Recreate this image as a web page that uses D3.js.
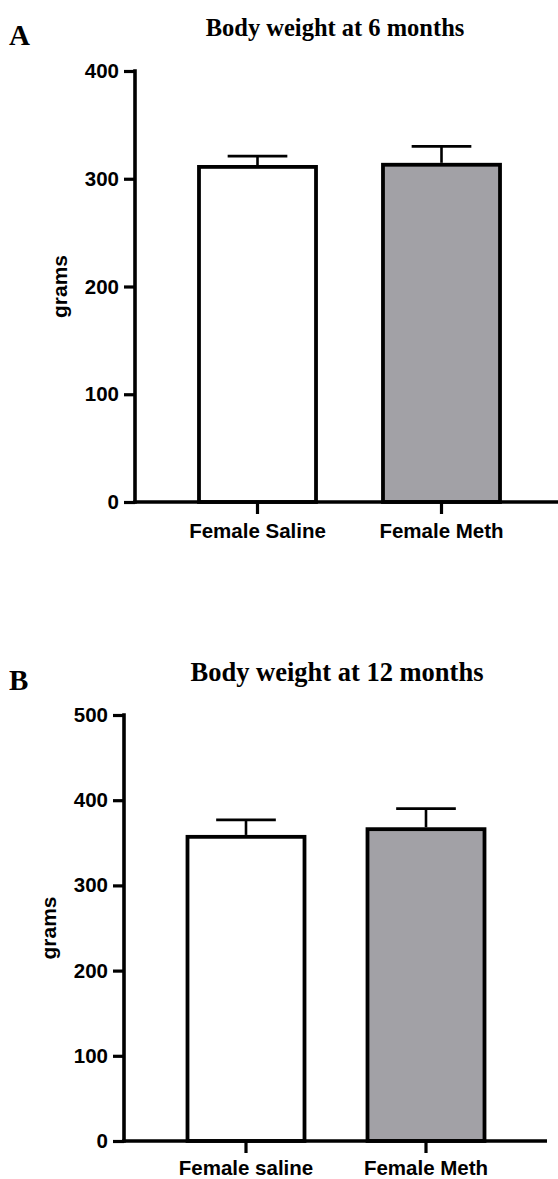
<!DOCTYPE html>
<html>
<head>
<meta charset="utf-8">
<script src="https://cdn.jsdelivr.net/npm/d3@7"></script>
<style>
  html, body { margin: 0; padding: 0; background: #fff; }
  svg { display: block; }
</style>
</head>
<body>
<svg id="fig" width="558" height="1179"></svg>
<script>
// Panel A: body weight at 6 months
const groupsA = ["Female Saline", "Female Meth"];
const meansA = [311, 313];
const semA = [10, 17];
const ticksA = [0, 100, 200, 300, 400];

// Panel B: body weight at 12 months
const groupsB = ["Female saline", "Female Meth"];
const meansB = [357, 366];
const semB = [20, 24];
const ticksB = [0, 100, 200, 300, 400, 500];

const fills = ["#ffffff", "#a2a1a6"];

const svg = d3.select("#fig");
const sans = "'Liberation Sans', Arial, Helvetica, sans-serif";
const serif = "'Liberation Serif', 'Times New Roman', serif";

function drawPanel(p) {
  const g = svg.append("g");

  const y = d3.scaleLinear().domain([0, p.ticks[p.ticks.length - 1]]).range([p.y0, p.y1]);
  const x = d3.scaleBand().domain(p.groups).range(p.xRange)
    .paddingInner(p.padInner).paddingOuter(p.padInner / 2);

  // panel letter and title
  g.append("text").attr("x", p.letterX).attr("y", p.letterY)
    .attr("font-family", serif).attr("font-weight", "bold").attr("font-size", 29)
    .text(p.letter);
  g.append("text").attr("x", p.titleX).attr("y", p.titleY).attr("text-anchor", "middle")
    .attr("font-family", serif).attr("font-weight", "bold").attr("font-size", p.titleSize)
    .text(p.title);

  // bars
  const bw = x.bandwidth();
  g.selectAll("rect.bar").data(p.groups).join("rect")
    .attr("class", "bar")
    .attr("x", d => x(d))
    .attr("width", bw)
    .attr("y", (d, i) => y(p.means[i]))
    .attr("height", (d, i) => y(0) - y(p.means[i]))
    .attr("fill", (d, i) => fills[i])
    .attr("stroke", "#000").attr("stroke-width", 3.8);

  // error bars (upper SEM only)
  const capW = bw * 0.51;
  p.groups.forEach((d, i) => {
    const cx = x(d) + bw / 2;
    g.append("line").attr("x1", cx).attr("x2", cx)
      .attr("y1", y(p.means[i]) - 1.9).attr("y2", y(p.means[i] + p.sem[i]))
      .attr("stroke", "#000").attr("stroke-width", 2.6);
    g.append("line").attr("x1", cx - capW / 2).attr("x2", cx + capW / 2)
      .attr("y1", y(p.means[i] + p.sem[i])).attr("y2", y(p.means[i] + p.sem[i]))
      .attr("stroke", "#000").attr("stroke-width", 2.8);
  });

  // y axis
  const yAxis = g.append("g").attr("transform", `translate(${p.axisX},0)`)
    .call(d3.axisLeft(y).tickValues(p.ticks).tickSize(11).tickPadding(5).tickSizeOuter(0));
  yAxis.select(".domain").attr("stroke-width", 3.6)
    .attr("d", `M0,${y(0) + 1.8}V${y.range()[1] - 1.8}`);
  yAxis.selectAll(".tick line").attr("stroke-width", 3.2);
  yAxis.selectAll(".tick text").attr("font-family", sans).attr("font-weight", "bold")
    .attr("font-size", 20.5).attr("fill", "#000");

  // x axis
  const xAxis = g.append("g").attr("transform", `translate(0,${p.y0})`)
    .call(d3.axisBottom(x).tickSize(12).tickPadding(p.xPad).tickSizeOuter(0));
  xAxis.select(".domain").attr("stroke-width", 3.6)
    .attr("d", `M${p.axisX - 1.8},0H${p.xEnd}`);
  xAxis.selectAll(".tick line").attr("stroke-width", 3.2);
  xAxis.selectAll(".tick text").attr("font-family", sans).attr("font-weight", "bold")
    .attr("font-size", 20.5).attr("fill", "#000");

  // y axis title
  g.append("text")
    .attr("transform", `translate(${p.yLabelX},${(p.y0 + p.y1) / 2}) rotate(-90)`)
    .attr("text-anchor", "middle")
    .attr("font-family", sans).attr("font-weight", "bold").attr("font-size", 21)
    .text("grams");
}

drawPanel({
  letter: "A", letterX: 9, letterY: 45,
  title: "Body weight at 6 months", titleX: 335, titleY: 36, titleSize: 24.5,
  groups: groupsA, means: meansA, sem: semA, ticks: ticksA,
  y0: 502, y1: 71, axisX: 135, xEnd: 558, xPad: 9,
  xRange: [165.5, 533.5], padInner: 0.364,
  yLabelX: 67
});

drawPanel({
  letter: "B", letterX: 9, letterY: 690,
  title: "Body weight at 12 months", titleX: 337, titleY: 681, titleSize: 26.5,
  groups: groupsB, means: meansB, sem: semB, ticks: ticksB,
  y0: 1141, y1: 715, axisX: 124, xEnd: 547, xPad: 7,
  xRange: [156, 516], padInner: 0.35,
  yLabelX: 56
});
</script>
</body>
</html>
